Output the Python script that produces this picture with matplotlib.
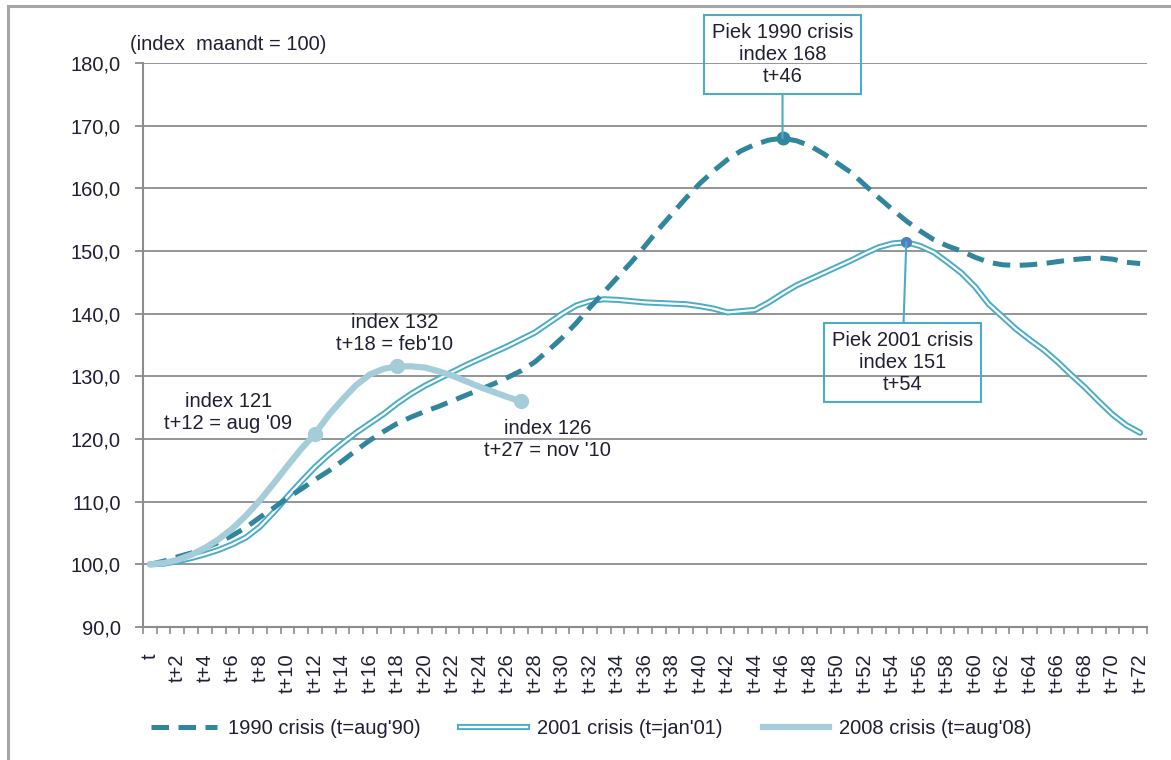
import numpy as np
import matplotlib
matplotlib.use("Agg")
import matplotlib.pyplot as plt
from matplotlib.lines import Line2D
from matplotlib.patches import Rectangle
from matplotlib.ticker import FuncFormatter, MultipleLocator

plt.rcParams['font.family'] = ['Liberation Sans', 'DejaVu Sans']

# months after start of crisis: t, t+1, ..., t+72
months = np.arange(0, 73)
tick_labels = ["t" if m == 0 else f"t+{m}" for m in months]

crisis_1990 = [100.0, 100.5, 101.2, 101.8, 102.6, 103.5, 104.6, 105.9, 107.5, 109.0,
               110.6, 112.0, 113.5, 114.9, 116.5, 118.2, 119.8, 121.2, 122.5, 123.5,
               124.4, 125.2, 126.1, 127.0, 127.9, 128.8, 129.8, 130.9, 132.3, 134.2,
               136.2, 138.5, 141.0, 143.4, 145.8, 148.2, 150.8, 153.5, 156.0, 158.5,
               160.8, 162.8, 164.6, 166.0, 167.0, 167.7, 168.0, 167.6, 166.8, 165.5,
               164.0, 162.5, 160.5, 158.5, 156.6, 154.8, 153.2, 151.8, 150.8, 150.0,
               149.0, 148.2, 147.8, 147.7, 147.8, 148.0, 148.3, 148.6, 148.8, 148.9,
               148.7, 148.2, 148.0]

crisis_2001 = [100.0, 100.1, 100.5, 101.0, 101.6, 102.3, 103.2, 104.3, 106.0, 108.3,
               110.8, 113.2, 115.5, 117.5, 119.3, 121.0, 122.5, 124.0, 125.7, 127.2,
               128.5, 129.6, 130.7, 131.8, 132.8, 133.8, 134.8, 135.9, 137.0, 138.5,
               140.0, 141.3, 142.0, 142.3, 142.2, 142.0, 141.8, 141.7, 141.6, 141.5,
               141.2, 140.8, 140.2, 140.4, 140.6, 141.8, 143.2, 144.5, 145.5, 146.5,
               147.5, 148.5, 149.6, 150.6, 151.2, 151.4, 150.8, 149.8, 148.2, 146.5,
               144.3, 141.5, 139.5, 137.5, 135.8, 134.2, 132.3, 130.2, 128.2, 126.0,
               123.9, 122.2, 121.0]

crisis_2008 = [100.0, 100.2, 100.7, 101.5, 102.6, 104.0, 105.7, 107.8, 110.2, 112.9,
               115.7, 118.4, 120.8, 123.8, 126.3, 128.6, 130.3, 131.2, 131.6, 131.6,
               131.4, 130.8, 130.1, 129.2, 128.3, 127.5, 126.7, 126.0]

c_dark = '#31859c'
c_mid = '#4bacc6'
c_light = '#a5cdd9'
c_text = '#1f1f33'
c_grid = '#8c8c8c'

fig = plt.figure(figsize=(11.71, 7.6), dpi=100)
ax = fig.add_axes([0.1221, 0.175, 0.8574, 0.7421])

# outer frame of the chart
fig.add_artist(Rectangle((8 / 1171, -0.1), 1.2, 1.1 - 6 / 760, transform=fig.transFigure,
                         fill=False, ec='#a6a6a6', lw=2.2))

ax.plot(months, crisis_2001, color=c_mid, lw=4.4, solid_capstyle='round', zorder=3)
ax.plot(months, crisis_2001, color='white', lw=1.6, solid_capstyle='round', zorder=3)
ax.plot(months, crisis_1990, color=c_dark, lw=3.6, dashes=(3.5, 1.9), zorder=4)
ax.plot(months[:len(crisis_2008)], crisis_2008, color=c_light, lw=4.5,
        solid_capstyle='round', zorder=5)

# markers
p90 = int(np.argmax(crisis_1990))
p01 = int(np.argmax(crisis_2001))
ax.plot(p90, crisis_1990[p90], 'o', color=c_dark, ms=9, zorder=6)
ax.plot(p01, crisis_2001[p01], 'o', color='#4f7fbf', ms=7, zorder=6)
for m in (12, 18, 27):
    ax.plot(m, crisis_2008[m], 'o', color=c_light, ms=10, zorder=6)

fs = 14.5
ax.text(5.7, 124.3, "index 121\nt+12 = aug '09", ha='center', va='center', fontsize=fs,
        color=c_text)
ax.text(17.8, 136.8, "index 132\nt+18 = feb'10", ha='center', va='center', fontsize=fs,
        color=c_text)
ax.text(28.9, 119.9, "index 126\nt+27 = nov '10", ha='center', va='center', fontsize=fs,
        color=c_text)

box = dict(boxstyle='square,pad=0.4', fc='none', ec=c_mid, lw=1.5)
line = dict(arrowstyle='-', color=c_mid, lw=1.5, shrinkA=0, shrinkB=0)
ax.annotate("Piek 1990 crisis\nindex 168\nt+46", xy=(p90, crisis_1990[p90]),
            xytext=(46.0, 181.3), ha='center', va='center', fontsize=fs, color=c_text,
            bbox=box, arrowprops=line, annotation_clip=False, zorder=7)
ax.annotate("Piek 2001 crisis\nindex 151\nt+54", xy=(p01, crisis_2001[p01]),
            xytext=(54.7, 132.2), ha='center', va='center', fontsize=fs, color=c_text,
            bbox=box, arrowprops=line, annotation_clip=False, zorder=7)

fig.text(130 / 1171, 1 - 45 / 760, "(index  maandt = 100)", ha='left', va='center',
         fontsize=fs, color=c_text)

# axes styling
ax.set_xlim(-0.5, 72.5)
ax.set_ylim(90, 180)
ax.yaxis.set_major_locator(MultipleLocator(10))
ax.yaxis.set_major_formatter(FuncFormatter(lambda v, p: f"{v:.1f}".replace('.', ',')))
ax.grid(axis='y', color=c_grid, lw=1.3)
ax.set_axisbelow(True)
for s in ('top', 'right'):
    ax.spines[s].set_visible(False)
for s in ('left', 'bottom'):
    ax.spines[s].set_color(c_grid)
    ax.spines[s].set_linewidth(1.5)

ax.set_xticks(months[::2])
ax.set_xticklabels(tick_labels[::2], rotation=90, va='top', ha='center')
ax.set_xticks(np.arange(-0.5, 73, 1), minor=True)
ax.tick_params(axis='x', which='major', length=0, pad=19, labelsize=fs, labelcolor=c_text)
ax.tick_params(axis='x', which='minor', length=5, width=1.2, color=c_grid)
ax.tick_params(axis='y', length=6, width=1.3, color=c_grid, pad=10, labelsize=fs,
               labelcolor=c_text)

handles = [Line2D([], [], color=c_dark, lw=3.6, dashes=(3.5, 1.9)),
           (Line2D([], [], color=c_mid, lw=4.4), Line2D([], [], color='white', lw=1.6)),
           Line2D([], [], color=c_light, lw=4.5)]
labels = ["1990 crisis (t=aug'90)", "2001 crisis (t=jan'01)", "2008 crisis (t=aug'08)"]
fig.legend(handles, labels, loc='center', bbox_to_anchor=(0.505, 0.042), ncol=3,
           frameon=False, fontsize=14.5, handlelength=3.3, handletextpad=0.5,
           columnspacing=2.0, labelcolor=c_text)

fig.savefig("out.png", dpi=100)
